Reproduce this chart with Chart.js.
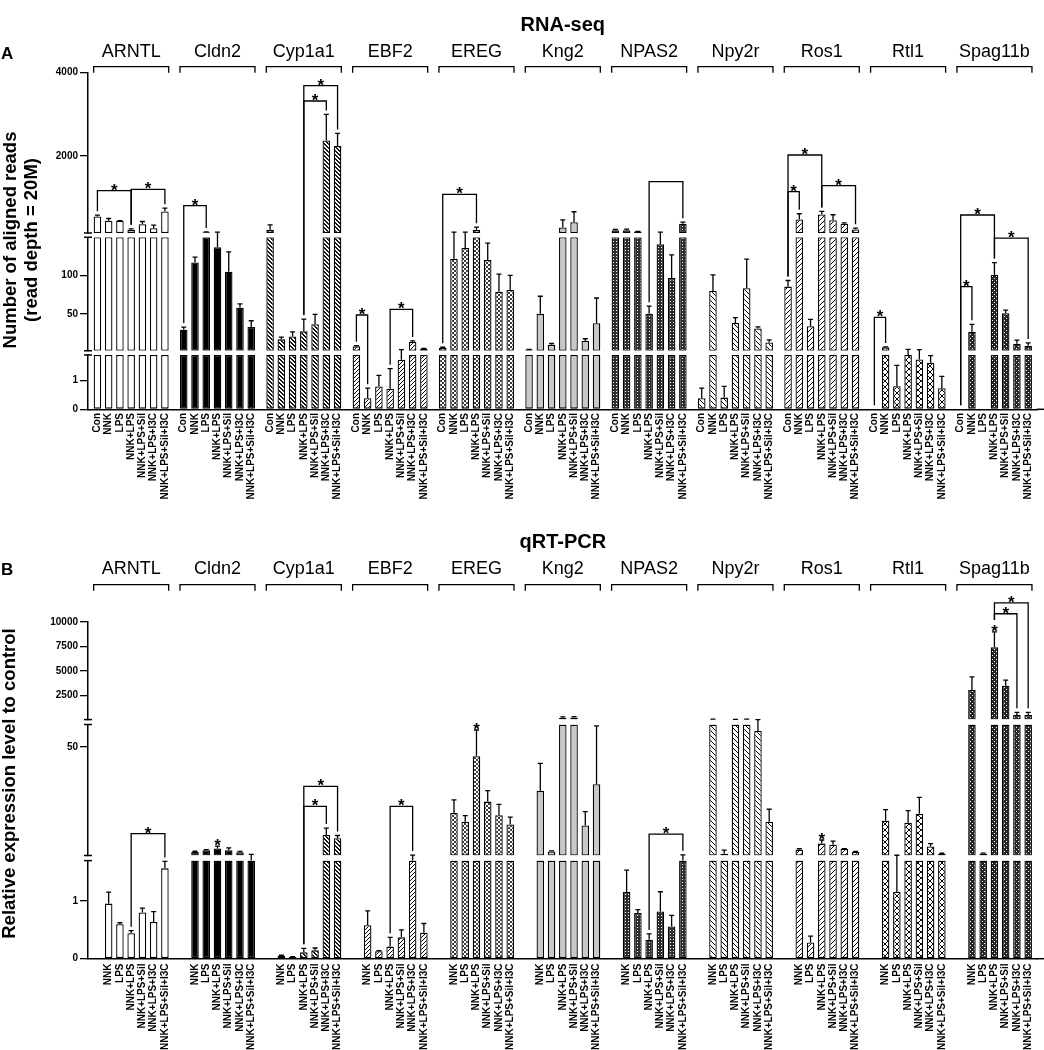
<!DOCTYPE html>
<html>
<head>
<meta charset="utf-8">
<script src="https://cdn.jsdelivr.net/npm/chart.js@4.4.1/dist/chart.umd.min.js"></script>
<style>
  html, body { margin: 0; padding: 0; background: #fff; }
  #wrap { position: relative; width: 1044px; height: 1050px; }
  canvas { position: absolute; left: 0; }
  #cA { top: 0; }
  #cB { top: 515px; }
</style>
</head>
<body>
<div id="wrap">
  <canvas id="cA" width="1044" height="515"></canvas>
  <canvas id="cB" width="1044" height="535"></canvas>
</div>
<script>
// gene groups and treatments (x axis)
const genes = ['ARNTL', 'Cldn2', 'Cyp1a1', 'EBF2', 'EREG', 'Kng2', 'NPAS2', 'Npy2r', 'Ros1', 'Rtl1', 'Spag11b'];
const treatments = ['Con', 'NNK', 'LPS', 'NNK+LPS', 'NNK+LPS+Sil', 'NNK+LPS+I3C', 'NNK+LPS+Sil+I3C'];

// A: RNA-seq, aligned reads (read depth = 20M)
const seqCon  = [547, 29.3, 226, 7.6, 5.8, 3.4, 217, 0.39, 85.6, 0, 0];
const seqNNK  = [443, 117, 16.7, 0.39, 122, 50, 217, 80, 475, 6.3, 26.7];
const seqLPS  = [443, 168, 20.6, 0.8, 136, 9.8, 186, 0.41, 33.8, 0.81, 0];
const seqNL   = [226, 137, 27.2, 0.72, 226, 282, 50, 38, 595, 1.9, 101];
const seqNLS  = [361, 105, 36.4, 1.73, 120.5, 410, 141, 83.5, 458, 1.74, 50.8];
const seqNLI  = [265, 58, 2371, 13.2, 79, 14.5, 97, 31, 371, 1.63, 11.1];
const seqNLSI = [667, 33, 2241, 4.5, 81.3, 37.7, 371, 12.6, 234, 0.74, 8.5];

const seqConErr  = [30, 3.5, 120, 0.8, 0.6, 0.3, 20, 0.35, 8, 0, 0];
const seqNNKErr  = [55, 7, 3, 0.35, 47, 23, 25, 21, 137, 0.5, 9.7];
const seqLPSErr  = [5, 8, 6, 0.39, 33, 1.5, 5, 0.39, 9, 0.73, 0];
const seqNLErr   = [24, 33, 16, 0.7, 63, 185, 10, 7, 72, 1.6, 16];
const seqNLSErr  = [65, 26, 13, 1.7, 22, 250, 28, 38, 130, 1.5, 4];
const seqNLIErr  = [72, 5, 627, 1.5, 23, 3, 30, 2, 20, 0.25, 4.7];
const seqNLSIErr = [80, 8, 300, 0.5, 19, 33, 40, 3.5, 32, 0.41, 3.5];

// broken y axis: segment limits and tick labels (bottom -> top)
const seqBreaks = [0, 1.9, 150, 4000];
const seqTicks = [[0, 1], [50, 100], [2000, 4000]];

// significance brackets: [gene, from, to, level, star]
const seqSig = [
  [0, 0, 3, 1166, 1], [0, 3, 6, 1200, 1], [1, 0, 2, 806, 1],
  [2, 3, 5, 3320, 1], [2, 3, 6, 3688, 1], [3, 0, 1, 48.5, 1], [3, 3, 5, 56, 1],
  [4, 0, 3, 1079, 1], [6, 3, 6, 1382, 0],
  [8, 0, 3, 2023, 1], [8, 0, 1, 1142, 1], [8, 3, 6, 1286, 1],
  [9, 0, 1, 45.5, 1], [10, 0, 3, 582, 1], [10, 0, 1, 85.5, 1], [10, 3, 6, 149, 1]
];

// B: qRT-PCR, relative expression level to control (no Con bar)
const pcrNNK  = [0.955, 3.3, 0.05, 0.58, 20.6, 30.5, 1.156, 62, 4.3, 17.2, 3076];
const pcrLPS  = [0.597, 4.0, 0.03, 0.13, 16.7, 3.5, 0.79, 2.5, 0.28, 1.156, 2.5];
const pcrNL   = [0.44, 4.8, 0.11, 0.21, 45.9, 250, 0.33, 62, 7.0, 16.3, 7429];
const pcrNLS  = [0.80, 4.0, 0.145, 0.37, 25.7, 270, 0.82, 64, 6.5, 20.3, 3516];
const pcrNLI  = [0.635, 3.2, 10.8, 1.7, 19.6, 15.1, 0.56, 57.2, 4.6, 5.7, 536];
const pcrNLSI = [1.566, 1.7, 9.4, 0.45, 15.5, 33.4, 1.7, 16.7, 3.3, 2.5, 536];

const pcrNNKErr  = [0.2, 0.3, 0.01, 0.25, 5.9, 12.2, 0.38, 40, 0.4, 4.9, 1330];
const pcrLPSErr  = [0.026, 0.3, 0.005, 0.01, 2.8, 0.3, 0.06, 1.6, 0.11, 0.65, 0.3];
const pcrNLErr   = [0.045, 1.1, 0.07, 0.16, 11.7, 80, 0.1, 30, 1.6, 5.4, 1567];
const pcrNLSErr  = [0.075, 1.1, 0.04, 0.13, 4.9, 100, 0.34, 50, 1.6, 7.3, 564];
const pcrNLIErr  = [0.18, 0.3, 3.1, 0.2, 4.9, 6.1, 0.19, 8, 0.2, 1.3, 266];
const pcrNLSIErr = [0.12, 0.5, 1.2, 0.16, 3.3, 26, 0.3, 5.6, 0.2, 0.2, 266];

const pcrBreaks = [0, 1.7, 60, 10000];
const pcrTicks = [[0, 1], [50], [2500, 5000, 7500, 10000]];

const pcrSig = [
  [0, 3, 6, 11.4, 1], [2, 3, 5, 23.6, 1], [2, 3, 6, 32.5, 1], [3, 3, 5, 23.6, 1],
  [6, 3, 6, 11.2, 1], [10, 3, 5, 10850, 1], [10, 3, 6, 11967, 1]
];
const pcrStars = [[1, 3], [4, 3], [8, 3], [10, 3]];

const FONT = "'Liberation Sans', Arial, Helvetica, sans-serif";
Chart.defaults.font.family = FONT;
Chart.defaults.color = '#000';

// fill patterns, one per gene
function geneFills(ctx) {
  const pat = (size, bg, fg, cells) => {
    const c = document.createElement('canvas');
    c.width = c.height = size;
    const g = c.getContext('2d');
    g.fillStyle = bg;
    g.fillRect(0, 0, size, size);
    g.fillStyle = fg;
    cells.forEach(([x, y, w, h]) => g.fillRect(x, y, w || 1, h || 1));
    return ctx.createPattern(c, 'repeat');
  };
  const diag = (size, forward, thick) => {
    const cells = [];
    for (let i = 0; i < size; i++) {
      const x = forward ? size - 1 - i : i;
      cells.push([x, i]);
      if (thick) cells.push([(x + 1) % size, i]);
    }
    return cells;
  };
  return [
    '#ffffff',
    '#000000',
    pat(4, '#fff', '#111', diag(4, false, true)),
    pat(4, '#fff', '#000', diag(4, true, false)),
    pat(4, '#fff', '#3a3a3a', [[0, 0, 2, 2], [2, 2, 2, 2]]),
    '#c8c8c8',
    pat(3, '#2e2e2e', '#fff', [[1, 1]]),
    pat(5, '#fff', '#000', diag(5, false, false)),
    pat(5, '#fff', '#000', diag(5, true, false)),
    pat(6, '#fff', '#000', diag(6, false, false).concat(diag(6, true, false))),
    pat(4, '#262626', '#fff', [[0, 0], [2, 2]])
  ];
}

function makeDecor(p) {
  return {
    id: 'decor',
    afterDraw(chart) {
      const ctx = chart.ctx;
      const area = chart.chartArea;
      const segs = p.segIds.map(id => chart.scales[id]);
      const vpix = v => {
        for (let i = 0; i < segs.length - 1; i++) {
          if (v <= p.breaks[i + 1]) return segs[i].getPixelForValue(v);
        }
        return segs[segs.length - 1].getPixelForValue(v);
      };
      const bar = (g, t) => chart.getDatasetMeta(t).data[g];
      const hasStar = (g, t) => p.stars.some(s => s[0] === g && s[1] === t);
      const topOf = (g, t) => {
        const v = p.values[t] ? p.values[t][g] || 0 : 0;
        const e = p.errors[t] ? p.errors[t][g] || 0 : 0;
        return vpix(v + e);
      };
      const star = (x, yBase) => {
        ctx.font = 'bold 17px ' + FONT;
        ctx.textAlign = 'center';
        ctx.textBaseline = 'alphabetic';
        ctx.fillText('*', x, yBase);
      };

      ctx.save();
      ctx.strokeStyle = '#000';
      ctx.fillStyle = '#000';

      // axis break marks and baseline running to the right edge
      ctx.lineWidth = 1.5;
      segs.forEach((s, i) => {
        ctx.beginPath();
        if (i > 0) { ctx.moveTo(area.left - 4, s.bottom); ctx.lineTo(area.left + 4, s.bottom); }
        if (i < segs.length - 1) { ctx.moveTo(area.left - 4, s.top); ctx.lineTo(area.left + 4, s.top); }
        ctx.stroke();
      });
      ctx.beginPath();
      ctx.moveTo(area.right - 1, area.bottom);
      ctx.lineTo(chart.width, area.bottom);
      ctx.stroke();
      ctx.lineWidth = 1.3;

      // error bars (upper only)
      treatments.forEach((t, ti) => {
        const vals = p.values[ti], errs = p.errors[ti];
        if (!vals) return;
        genes.forEach((g, gi) => {
          const v = vals[gi], e = errs[gi];
          if (!v || !e) return;
          const x = bar(gi, ti).x;
          const y1 = vpix(v), y2 = vpix(v + e);
          ctx.beginPath();
          ctx.moveTo(x, y1); ctx.lineTo(x, y2);
          ctx.moveTo(x - 2.5, y2); ctx.lineTo(x + 2.5, y2);
          ctx.stroke();
        });
      });

      // significance brackets
      p.sig.forEach(([g, a, b, level, s]) => {
        const xa = bar(g, a).x, xb = bar(g, b).x, y = vpix(level);
        const ya = topOf(g, a) - (hasStar(g, a) ? 12 : 4);
        const yb = topOf(g, b) - (hasStar(g, b) ? 12 : 4);
        ctx.beginPath();
        ctx.moveTo(xa, ya); ctx.lineTo(xa, y); ctx.lineTo(xb, y); ctx.lineTo(xb, yb);
        ctx.stroke();
        if (s) star((xa + xb) / 2, y + 5);
      });
      p.stars.forEach(([g, t]) => star(bar(g, t).x, topOf(g, t) + 5));

      // rotated treatment labels under each bar
      ctx.font = 'bold 10px ' + FONT;
      ctx.textAlign = 'right';
      ctx.textBaseline = 'middle';
      treatments.forEach((t, ti) => {
        if (!p.values[ti]) return;
        genes.forEach((g, gi) => {
          ctx.save();
          ctx.translate(bar(gi, ti).x, p.labelY);
          ctx.rotate(-Math.PI / 2);
          ctx.fillText(t, 0, 0);
          ctx.restore();
        });
      });

      // gene group brackets and names
      ctx.font = '18px ' + FONT;
      ctx.textAlign = 'center';
      ctx.textBaseline = 'alphabetic';
      genes.forEach((g, gi) => {
        const first = bar(gi, 0), last = bar(gi, treatments.length - 1);
        const x1 = first.x - first.width / 2, x2 = last.x + last.width / 2;
        ctx.beginPath();
        ctx.moveTo(x1, p.bracketY + 6); ctx.lineTo(x1, p.bracketY);
        ctx.lineTo(x2, p.bracketY); ctx.lineTo(x2, p.bracketY + 6);
        ctx.stroke();
        ctx.fillText(g, (x1 + x2) / 2, p.geneY);
      });

      // panel title, letter, y title
      ctx.font = 'bold 20px ' + FONT;
      ctx.fillText(p.title, (area.left + area.right) / 2, p.titleY);
      ctx.font = 'bold 17px ' + FONT;
      ctx.textAlign = 'left';
      ctx.fillText(p.letter, 1, p.letterY);
      ctx.font = 'bold 18.5px ' + FONT;
      ctx.textAlign = 'center';
      p.yTitle.forEach((line, i) => {
        ctx.save();
        ctx.translate(p.yTitleX[i], p.yTitleY);
        ctx.rotate(-Math.PI / 2);
        ctx.fillText(line, 0, 0);
        ctx.restore();
      });
      ctx.restore();
    }
  };
}

function buildPanel(p) {
  const canvas = document.getElementById(p.canvas);
  const fills = geneFills(canvas.getContext('2d'));
  const segIds = ['yBot', 'yMid', 'yTop'];
  p.segIds = segIds;

  const datasets = [];
  segIds.forEach((id, si) => {
    const lo = p.breaks[si], hi = p.breaks[si + 1];
    treatments.forEach((t, ti) => {
      const vals = p.values[ti];
      datasets.push({
        label: t,
        stack: t,
        yAxisID: id,
        data: genes.map((g, gi) => {
          const v = vals ? vals[gi] : null;
          if (v == null || v <= lo) return null;
          return [lo, Math.min(v, hi)];
        }),
        backgroundColor: fills,
        borderColor: '#000',
        borderWidth: 1.3,
        borderSkipped: false,
        categoryPercentage: 0.912,
        barPercentage: 0.67
      });
    });
  });

  const scales = {
    x: {
      type: 'category',
      labels: genes,
      offset: true,
      grid: { display: false, drawTicks: false },
      ticks: { display: false },
      border: { display: true, color: '#000', width: 1.5 }
    }
  };
  const fixWidth = s => { s.width = 40; };
  let w = 20;
  for (let i = segIds.length - 1; i >= 0; i--) {
    const ticks = p.ticks[i];
    scales[segIds[i]] = {
      type: 'linear', axis: 'y', position: 'left',
      stack: 'v', stackWeight: p.heights[i], weight: w--,
      min: p.breaks[i], max: p.breaks[i + 1],
      afterBuildTicks: s => { s.ticks = ticks.map(v => ({ value: v })); },
      afterFit: fixWidth,
      ticks: { font: { size: 10, weight: 'bold' }, color: '#000', padding: 2, callback: v => String(v) },
      grid: { display: true, drawOnChartArea: false, drawTicks: true, tickLength: 8, color: '#000', lineWidth: 1.3 },
      border: { display: true, color: '#000', width: 1.5 }
    };
    if (i > 0) {
      scales['yGap' + i] = {
        type: 'linear', axis: 'y', position: 'left',
        stack: 'v', stackWeight: p.gaps[i - 1], weight: w--,
        min: 0, max: 1, display: true,
        afterFit: fixWidth,
        ticks: { display: false },
        grid: { display: false, drawTicks: false },
        border: { display: false }
      };
    }
  }

  return new Chart(canvas, {
    type: 'bar',
    data: { labels: genes, datasets },
    options: {
      responsive: false,
      maintainAspectRatio: false,
      animation: false,
      layout: { padding: p.padding },
      plugins: { legend: { display: false }, tooltip: { enabled: false }, title: { display: false } },
      scales
    },
    plugins: [makeDecor(p)]
  });
}

buildPanel({
  canvas: 'cA',
  values: [seqCon, seqNNK, seqLPS, seqNL, seqNLS, seqNLI, seqNLSI],
  errors: [seqConErr, seqNNKErr, seqLPSErr, seqNLErr, seqNLSErr, seqNLIErr, seqNLSIErr],
  breaks: seqBreaks,
  ticks: seqTicks,
  sig: seqSig,
  stars: [],
  heights: [54.3, 113.4, 160.3],
  gaps: [4.3, 4.3],
  padding: { top: 72.7, bottom: 105.7, left: 48, right: 6.4 },
  labelY: 413,
  bracketY: 66.7,
  geneY: 57.2,
  title: 'RNA-seq',
  titleY: 31,
  letter: 'A',
  letterY: 58.5,
  yTitle: ['Number of aligned reads', '(read depth = 20M)'],
  yTitleX: [16, 37],
  yTitleY: 240
});

buildPanel({
  canvas: 'cB',
  values: [null, pcrNNK, pcrLPS, pcrNL, pcrNLS, pcrNLI, pcrNLSI],
  errors: [null, pcrNNKErr, pcrLPSErr, pcrNLErr, pcrNLSErr, pcrNLIErr, pcrNLSIErr],
  breaks: pcrBreaks,
  ticks: pcrTicks,
  sig: pcrSig,
  stars: pcrStars,
  heights: [98.1, 130.9, 97.5],
  gaps: [5.1, 5.0],
  padding: { top: 107.1, bottom: 91.3, left: 48, right: 6.4 },
  labelY: 448.5,
  bracketY: 69.7,
  geneY: 58.6,
  title: 'qRT-PCR',
  titleY: 33,
  letter: 'B',
  letterY: 60,
  yTitle: ['Relative expression level to control'],
  yTitleX: [15],
  yTitleY: 268.5
});
</script>
</body>
</html>
